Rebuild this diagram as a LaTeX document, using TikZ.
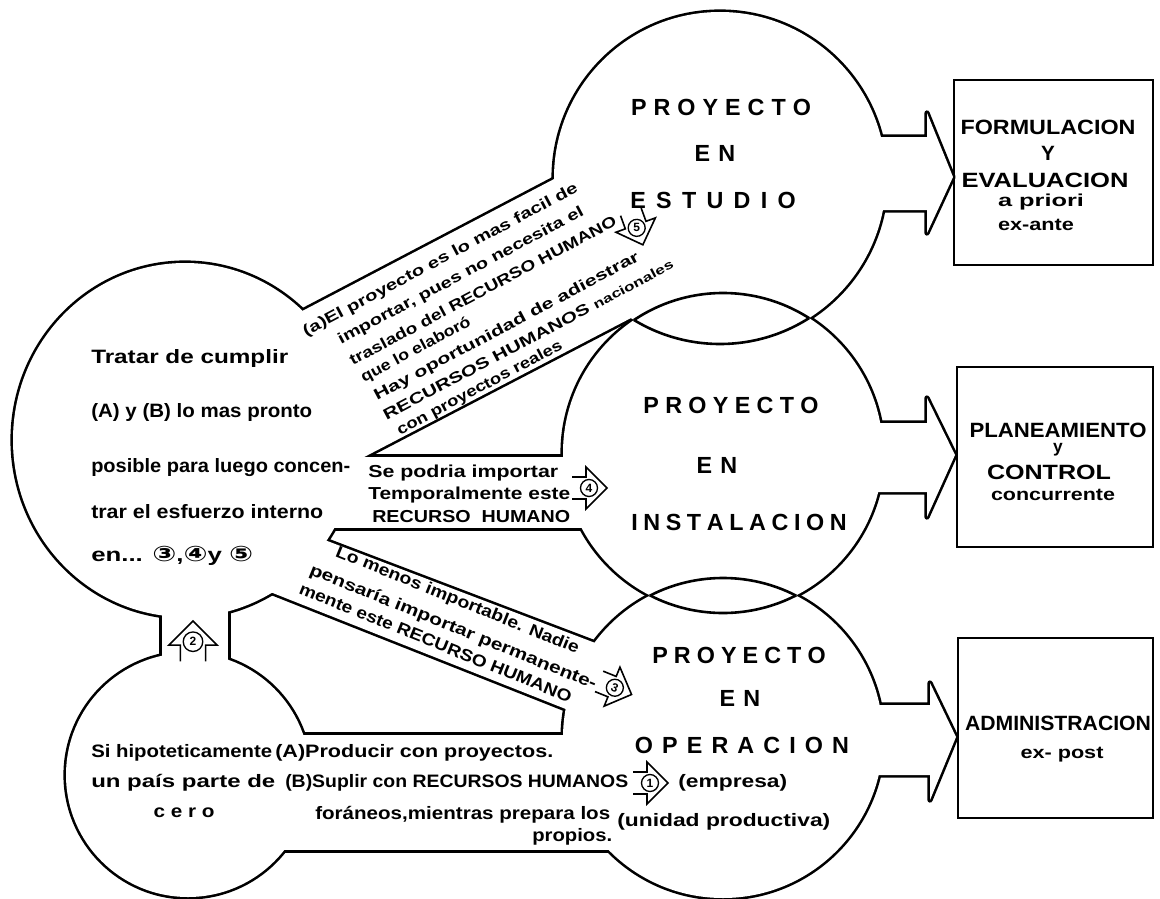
\documentclass[tikz,border=0pt]{standalone}
\usepackage{fontspec}
\usepackage{graphicx}
\setmainfont{Liberation Sans}
\newfontfamily\lab{Liberation Sans}
\newfontfamily\dv{DejaVu Sans}
\usetikzlibrary{calc}
\newdimen\pxu \pxu=0.75pt
\newcommand\fw[2]{\resizebox{#1\pxu}{\height}{#2}}
\newcommand\spc[2]{\def\spcamt{#1}\spcfirst#2\relax}
\def\spcfirst#1{#1\spcx}
\def\spcx#1{\ifx#1\relax\else\kern\spcamt #1\expandafter\spcx\fi}
\tikzset{
  shpline/.style={draw=black, line width=3.9pt, line join=round},
  shpfill/.style={fill=white},
  lensline/.style={draw=black, line width=1.95pt},
  boxline/.style={draw=black, line width=1.9pt},
  ht/.style={inner sep=0pt, anchor=west, font=\bfseries\fontsize{14.5}{16}\selectfont},
  mt/.style={inner sep=0pt, anchor=west, font=\bfseries\fontsize{13}{15}\selectfont},
  lt/.style={inner sep=0pt, anchor=west, font=\bfseries\fontsize{13.5}{15}\selectfont},
  bt/.style={inner sep=0pt, anchor=west, rotate=28, font=\bfseries\fontsize{11.5}{13}\selectfont},
  ct/.style={inner sep=0pt, anchor=west, rotate=-22, font=\bfseries\fontsize{12.5}{14}\selectfont},
  lb/.style={inner sep=0pt, font=\lab\bfseries\fontsize{17.5}{20}\selectfont},
  bx/.style={inner sep=0pt, font=\lab\bfseries\fontsize{15.5}{18}\selectfont},
  bxs/.style={inner sep=0pt, font=\lab\bfseries\fontsize{13}{15}\selectfont},
  glyph/.style={draw=black, line width=1.2pt, line join=miter},
  digit/.style={inner sep=0pt, font=\lab\bfseries\fontsize{9}{9}\selectfont}
}
\newcommand\allshapes[1]{%
  \path[#1] (185,440) ellipse [x radius=172, y radius=177];
  \path[#1] (162,590) rectangle (228,690);
  \path[#1] (188,775) circle [radius=122];
  \path[#1] (720,178) circle [radius=166];
  \path[#1] (723,453) circle [radius=160];
  \path[#1] (723,738) circle [radius=160];
  \path[#1] (250,338.4) -- (620,144.5) -- (680,292.5) -- (300,490.4) -- cycle;
  \path[#1] (300,457) -- (600,457) -- (600,528) -- (300,528) -- cycle;
  \path[#1] (280,523) -- (640,660) -- (620,730.5) -- (240,580) -- cycle;
  \path[#1] (250,735) -- (640,735) -- (640,850) -- (250,850) -- cycle;
  \path[#1] (850,137) -- (927,137) -- (927,113) -- (953,177) -- (927,233) -- (927,210) -- (850,210) -- cycle;
  \path[#1] (850,423) -- (927,423) -- (927,398) -- (955,455) -- (927,517) -- (927,492) -- (850,492) -- cycle;
  \path[#1] (850,705) -- (930,705) -- (930,683) -- (956,737) -- (930,800) -- (930,775) -- (850,775) -- cycle;
}
\newcommand\oarr[7]{% name, x, y, angle, digit, digit rotation, scale
  \begin{scope}[shift={(#2,#3)}, rotate=#4, scale=#7]
    \draw[glyph] (-15,-11) -- (-1,-11) -- (-1,-21) -- (20,0) -- (-1,21) -- (-1,11) -- (-15,11);
    \draw[line width=1pt] (2,0) circle [radius=8.5];
    \node[digit, rotate=#6] (#1) at (2,0) {#5};
  \end{scope}}
\begin{document}
\begin{tikzpicture}[x=0.75pt, y=-0.75pt]
\useasboundingbox (0,0) rectangle (1160,899);
\fill[white] (0,0) rectangle (1160,899);
% union outline
\allshapes{shpline}
\allshapes{shpfill}
% lens arcs
\begin{scope}\clip (723,453) circle [radius=160]; \draw[lensline] (720,178) circle [radius=166]; \end{scope}
\begin{scope}\clip (720,178) circle [radius=166]; \draw[lensline] (723,453) circle [radius=160]; \end{scope}
\begin{scope}\clip (723,738) circle [radius=160]; \draw[lensline] (723,453) circle [radius=160]; \end{scope}
\begin{scope}\clip (723,453) circle [radius=160]; \draw[lensline] (723,738) circle [radius=160]; \end{scope}
% boxes
\draw[boxline] (954,80) rectangle (1153,265);
\draw[boxline] (957,367) rectangle (1153,547);
\draw[boxline] (958,638) rectangle (1153,818);
% box texts
\node[bx] (f1) at (1048,127) {\fw{175}{FORMULACION}};
\node[bx] (f2) at (1048,153) {Y};
\node[bx] (f3) at (1045,180) {\fw{167}{EVALUACION}};
\node[bxs] (f4) at (1041,202) {\fw{86}{a priori}};
\node[bxs] (f5) at (1036,225) {\fw{76}{ex-ante}};
\node[bx] (p1) at (1058,430) {\fw{177}{PLANEAMIENTO}};
\node[bxs] (p2) at (1058,450) {y};
\node[bx] (p3) at (1049,472) {\fw{124}{CONTROL}};
\node[bxs] (p4) at (1053,495) {\fw{124}{concurrente}};
\node[bx] (d1) at (1058,723) {\fw{186}{ADMINISTRACION}};
\node[bxs] (d2) at (1062,755) {\fw{83}{ex- post}};
% circle labels
\node[lb] (e1) at (721,107) {\spc{0.30em}{PROYECTO}};
\node[lb] (e2) at (715,153) {\spc{0.35em}{EN}};
\node[lb] (e3) at (713,200) {\spc{0.44em}{ESTUDIO}};
\node[lb] (i1) at (731,405) {\spc{0.27em}{PROYECTO}};
\node[lb] (i2) at (717,465) {\spc{0.35em}{EN}};
\node[lb] (i3) at (739,522) {\spc{0.24em}{INSTALACION}};
\node[lb] (o1) at (739,655) {\spc{0.26em}{PROYECTO}};
\node[lb] (o2) at (740,698) {\spc{0.35em}{EN}};
\node[lb] (o3) at (742,745) {\spc{0.39em}{OPERACION}};
% left blob text
\node[ht] (l1) at (91,358) {\fw{197}{Tratar de cumplir}};
\node[ht] (l2) at (91,412) {\fw{221}{(A) y (B) lo mas pronto}};
\node[ht] (l3) at (91,468) {\fw{259}{posible para luego concen-}};
\node[ht] (l4) at (91,512) {\fw{232}{trar el esfuerzo interno}};
\node[ht] (l5) at (91,556) {\fw{162}{en... {\dv\bfseries\fontsize{16}{16}\selectfont ③},{\dv\fontsize{16}{16}\selectfont ④}y {\dv\fontsize{16}{16}\selectfont ⑤}}};
% bottom circle / lower band text
\node[lt] (b1) at (91,753) {\fw{181}{Si hipoteticamente}};
\node[lt] (b2) at (275,753) {\fw{278}{(A)Producir con proyectos.}};
\node[lt] (b3) at (91,783) {\fw{184}{un país parte de}};
\node[lt] (b4) at (285,783) {\fw{343}{(B)Suplir con RECURSOS HUMANOS}};
\node[lt, anchor=center] (b5) at (184,813) {\fw{61}{c e r o}};
\node[lt] (b6) at (315,815) {\fw{295}{foráneos,mientras prepara los}};
\node[lt] (b7) at (532,837) {\fw{80}{propios.}};
\node[lt] (b8) at (678,783) {\fw{109}{(empresa)}};
\node[lt] (b9) at (617,822) {\fw{213}{(unidad productiva)}};
% middle band text
\node[mt] (m1) at (368,473) {\fw{190}{Se podria importar}};
\node[mt] (m2) at (368,495) {\fw{202}{Temporalmente este}};
\node[mt] (m3) at (372,517) {\fw{198}{RECURSO\ \ HUMANO}};
% band 1 text
\node[bt] (a1) at (304,333) {\fw{309}{(a)El proyecto es lo mas facil de}};
\node[bt] (a2) at (339,341) {\fw{276}{importar, pues no necesita el}};
\node[bt] (a3) at (350,361) {\fw{300}{traslado del RECURSO HUMANO}};
\node[bt] (a4) at (362,379) {\fw{122}{que lo elaboró}};
\node[bt] (a5) at (375,397) {\fw{298}{Hay oportunidad de adiestrar}};
\node[bt] (a6) at (384,416) {\fw{326}{RECURSOS HUMANOS {\fontsize{9.5}{10}\selectfont nacionales}}};
\node[bt] (a7) at (398,432) {\fw{185}{con proyectos reales}};
% band 3 text
\node[ct] (c1) at (336,552) {\fw{261}{Lo menos importable. Nadie}};
\node[ct] (c2) at (310,570) {\fw{308}{pensaría importar permanente-}};
\node[ct] (c3) at (300,588) {\fw{292}{mente este RECURSO HUMANO}};
% open arrows with numbers
\oarr{n1}{648}{783}{0}{1}{0}{1}
\oarr{n2}{193}{644}{90}{2}{0}{1.15}
\oarr{n3}{613}{687}{-22}{3}{-22}{1}
\oarr{n4}{587}{488}{0}{4}{0}{1}
\oarr{n5}{636}{226}{-70}{5}{0}{1}
\end{tikzpicture}
\end{document}
